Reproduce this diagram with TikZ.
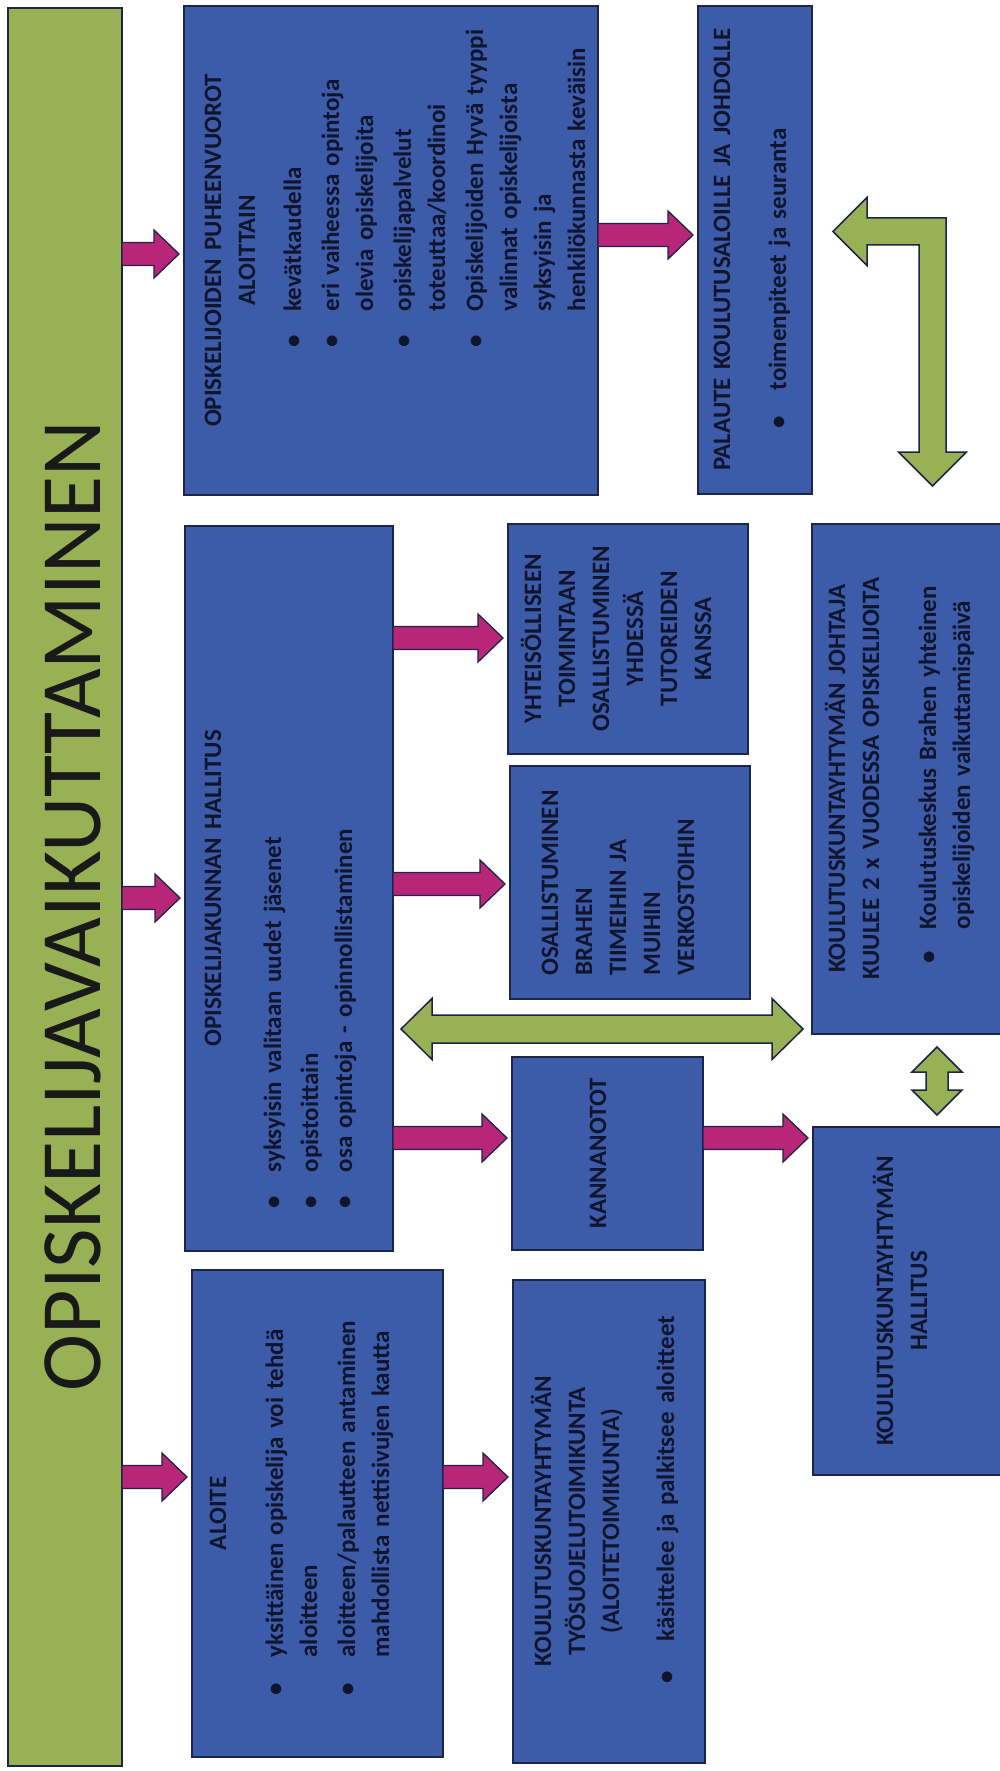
\documentclass[tikz,border=0pt]{standalone}
\usepackage{fontspec}
\setmainfont{Carlito}
\usetikzlibrary{calc}

\definecolor{bargreen}{RGB}{152,177,84}
\definecolor{boxblue}{RGB}{60,92,170}
\definecolor{boxline}{RGB}{28,36,72}
\definecolor{arrowpink}{RGB}{184,38,122}
\definecolor{txtdark}{RGB}{16,20,44}

\tikzset{
  box/.style={draw=boxline, line width=1.5pt, fill=boxblue, anchor=north west,
    inner sep=0pt, outer sep=0pt},
  txt/.style={rotate=90, anchor=base west, inner sep=0pt, text=txtdark,
    font=\bfseries\fontsize{25}{34}\selectfont, align=center},
  bartitle/.style={rotate=90, anchor=base, inner sep=0pt, text=black!90,
    font=\fontsize{86}{86}\selectfont},
  pinkfill/.style={fill=arrowpink, draw=boxline, line width=1.3pt},
  greenfill/.style={fill=bargreen, draw=boxline, line width=1.5pt},
}

% bullet list, left aligned over the full text width
% #1 bullet indent, #2 gap after bullet, #3 rows
\newcommand\blist[3]{\makebox[\linewidth][l]{%
  \begin{tabular}[t]{@{\hspace{#1}}l@{\hspace{#2}}l@{}}#3\end{tabular}}}

% pink block arrow, pointing right (y taken from the start point)
\def\pw{11.5pt}\def\ph{24pt}\def\pl{25pt}
\newcommand\pinkarrow[2]{%
  \path[pinkfill] let \p1=(#1), \p2=(#2), \n1={\x2-5pt} in
    (\x1,\y1+\pw) -- (\n1-\pl,\y1+\pw) -- (\n1-\pl,\y1+\ph) -- (\n1,\y1)
    -- (\n1-\pl,\y1-\ph) -- (\n1-\pl,\y1-\pw) -- (\x1,\y1-\pw) -- cycle;}

% green double arrow, horizontal
\def\gw{14pt}\def\gh{30.5pt}\def\gl{31pt}
\newcommand\greenharrow[2]{%
  \path[greenfill] let \p1=(#1), \p2=(#2), \n1={\x1+8pt}, \n2={\x2-9pt} in
    (\n1,\y1) -- (\n1+\gl,\y1+\gh) -- (\n1+\gl,\y1+\gw) -- (\n2-\gl,\y1+\gw)
    -- (\n2-\gl,\y1+\gh) -- (\n2,\y1) -- (\n2-\gl,\y1-\gh) -- (\n2-\gl,\y1-\gw)
    -- (\n1+\gl,\y1-\gw) -- (\n1+\gl,\y1-\gh) -- cycle;}

% green double arrow, vertical
\def\vw{11pt}\def\vh{25pt}\def\vl{25pt}
\newcommand\greenvarrow[2]{%
  \path[greenfill] let \p1=(#1), \p2=(#2), \n1={\y1-13pt}, \n2={\y2+12pt} in
    (\x1,\n1) -- (\x1+\vh,\n1-\vl) -- (\x1+\vw,\n1-\vl) -- (\x1+\vw,\n2+\vl)
    -- (\x1+\vh,\n2+\vl) -- (\x1,\n2) -- (\x1-\vh,\n2+\vl) -- (\x1-\vw,\n2+\vl)
    -- (\x1-\vw,\n1-\vl) -- (\x1-\vh,\n1-\vl) -- cycle;}

% green double arrow with a bend: left tip and down tip
\def\bw{13.5pt}\def\bh{34pt}\def\bl{34pt}
\newcommand\greenbent[2]{%
  \path[greenfill] let \p1=(#1), \p2=(#2), \n1={\x1+21pt}, \n2={\y2+38pt} in
    (\n1,\y1) -- (\n1+\bl,\y1+\bh) -- (\n1+\bl,\y1+\bw) -- (\x2+\bw,\y1+\bw)
    -- (\x2+\bw,\n2+\bl) -- (\x2+\bh,\n2+\bl) -- (\x2,\n2) -- (\x2-\bh,\n2+\bl)
    -- (\x2-\bw,\n2+\bl) -- (\x2-\bw,\y1-\bw) -- (\n1+\bl,\y1-\bw)
    -- (\n1+\bl,\y1-\bh) -- cycle;}

\begin{document}
\begin{tikzpicture}[x=1pt,y=-1pt]
  \path[use as bounding box, fill=white] (0,0) rectangle (1000,1771);
  \clip (0,0) rectangle (1000,1771);

  % green bar with the title
  \node[box, fill=bargreen, minimum width=114pt, minimum height=1758pt] (bar) at (8,8) {};
  \node[bartitle] (title) at (100,906) {OPISKELIJAVAIKUTTAMINEN};

  % boxes
  \node[box, minimum width=414pt, minimum height=489pt] (puhe) at (184,6) {};
  \node[box, minimum width=208pt, minimum height=725pt] (hallitus) at (185,526) {};
  \node[box, minimum width=251pt, minimum height=487pt] (aloite) at (192,1270) {};
  \node[box, minimum width=114pt, minimum height=488pt] (palaute) at (698,6) {};
  \node[box, minimum width=240pt, minimum height=230pt] (yhteis) at (508,524) {};
  \node[box, minimum width=240pt, minimum height=233pt] (verk) at (510,766) {};
  \node[box, minimum width=191pt, minimum height=193pt] (kann) at (512,1057) {};
  \node[box, minimum width=192pt, minimum height=483pt] (tsuoj) at (513,1280) {};
  \node[box, minimum width=200pt, minimum height=510pt] (johtaja) at (812,524) {};
  \node[box, minimum width=200pt, minimum height=348pt] (kjhall) at (813,1127) {};

  % texts
  \node[txt, text width=489pt] (puhe-t) at ([xshift=37pt]puhe.south west) {%
    OPISKELIJOIDEN PUHEENVUOROT\\ALOITTAIN\par\vspace{12pt}
    \blist{147pt}{24pt}{%
      \textbullet & kevätkaudella\\[4pt]
      \textbullet & eri vaiheessa opintoja\\
                  & olevia opiskelijoita\\[4pt]
      \textbullet & opiskelijapalvelut\\
                  & toteuttaa/koordinoi\\[4pt]
      \textbullet & Opiskelijoiden Hyvä tyyppi\\
                  & valinnat opiskelijoista\\
                  & syksyisin ja\\
                  & henkilökunnasta keväisin}};
  \node[txt, text width=725pt] (hallitus-t) at ([xshift=36pt]hallitus.south west) {%
    OPISKELIJAKUNNAN HALLITUS\par\vspace{26pt}
    \blist{42pt}{24pt}{%
      \textbullet & syksyisin valitaan uudet jäsenet\\[3pt]
      \textbullet & opistoittain\\
      \textbullet & osa opintoja - opinnollistaminen}};
  \node[txt, text width=487pt] (aloite-t) at ([xshift=34pt]aloite.south west) {%
    ALOITE\par\vspace{23pt}
    \blist{61pt}{26pt}{%
      \textbullet & yksittäinen opiskelija voi tehdä\\
                  & aloitteen\\[4pt]
      \textbullet & aloitteen/palautteen antaminen\\
                  & mahdollista nettisivujen kautta}};
  \node[txt, text width=488pt] (palaute-t) at ([xshift=32pt]palaute.south west) {%
    PALAUTE KOULUTUSALOILLE JA JOHDOLLE\par\vspace{22pt}
    \blist{65pt}{26pt}{\textbullet & toimenpiteet ja seuranta}};
  \node[txt, text width=230pt] (yhteis-t) at ([xshift=33pt]yhteis.south west)
    {YHTEISÖLLISEEN\\TOIMINTAAN\\OSALLISTUMINEN\\YHDESSÄ\\TUTOREIDEN\\KANSSA};
  \node[txt, text width=200pt, align=left] (verk-t) at ([xshift=48pt,yshift=23pt]verk.south west)
    {OSALLISTUMINEN\\BRAHEN\\TIIMEIHIN JA\\MUIHIN\\VERKOSTOIHIN};
  \node[txt, text width=193pt] (kann-t) at ([xshift=94pt]kann.south west) {KANNANOTOT};
  \node[txt, text width=483pt] (tsuoj-t) at ([xshift=38pt]tsuoj.south west) {%
    KOULUTUSKUNTAYHTYMÄN\\TYÖSUOJELUTOIMIKUNTA\\(ALOITETOIMIKUNTA)\par\vspace{21pt}
    \blist{79pt}{30pt}{\textbullet & käsittelee ja palkitsee aloitteet}};
  \node[txt, text width=510pt] (johtaja-t) at ([xshift=33pt]johtaja.south west) {%
    KOULUTUSKUNTAYHTYMÄN JOHTAJA\\KUULEE 2 x VUODESSA OPISKELIJOITA\par\vspace{23pt}
    \blist{70pt}{22pt}{%
      \textbullet & Koulutuskeskus Brahen yhteinen\\
                  & opiskelijoiden vaikuttamispäivä}};
  \node[txt, text width=348pt] (kjhall-t) at ([xshift=80pt]kjhall.south west)
    {KOULUTUSKUNTAYHTYMÄN\\HALLITUS};

  % arrows
  \pinkarrow{bar.east |- 0,254}{puhe.west}
  \pinkarrow{bar.east |- 0,898}{hallitus.west}
  \pinkarrow{bar.east |- 0,1477}{aloite.west}
  \pinkarrow{puhe.east |- 0,235}{palaute.west}
  \pinkarrow{hallitus.east |- 0,638}{yhteis.west}
  \pinkarrow{hallitus.east |- 0,884}{verk.west}
  \pinkarrow{hallitus.east |- 0,1138}{kann.west}
  \pinkarrow{aloite.east |- 0,1477}{tsuoj.west}
  \pinkarrow{kann.east |- 0,1138}{kjhall.west}
  \greenharrow{hallitus.east |- 0,1029}{johtaja.west |- 0,1029}
  \greenvarrow{johtaja.south -| 937,0}{kjhall.north -| 937,0}
  \greenbent{palaute.east |- 0,231.5}{johtaja.north -| 932.5,0}
\end{tikzpicture}
\end{document}
